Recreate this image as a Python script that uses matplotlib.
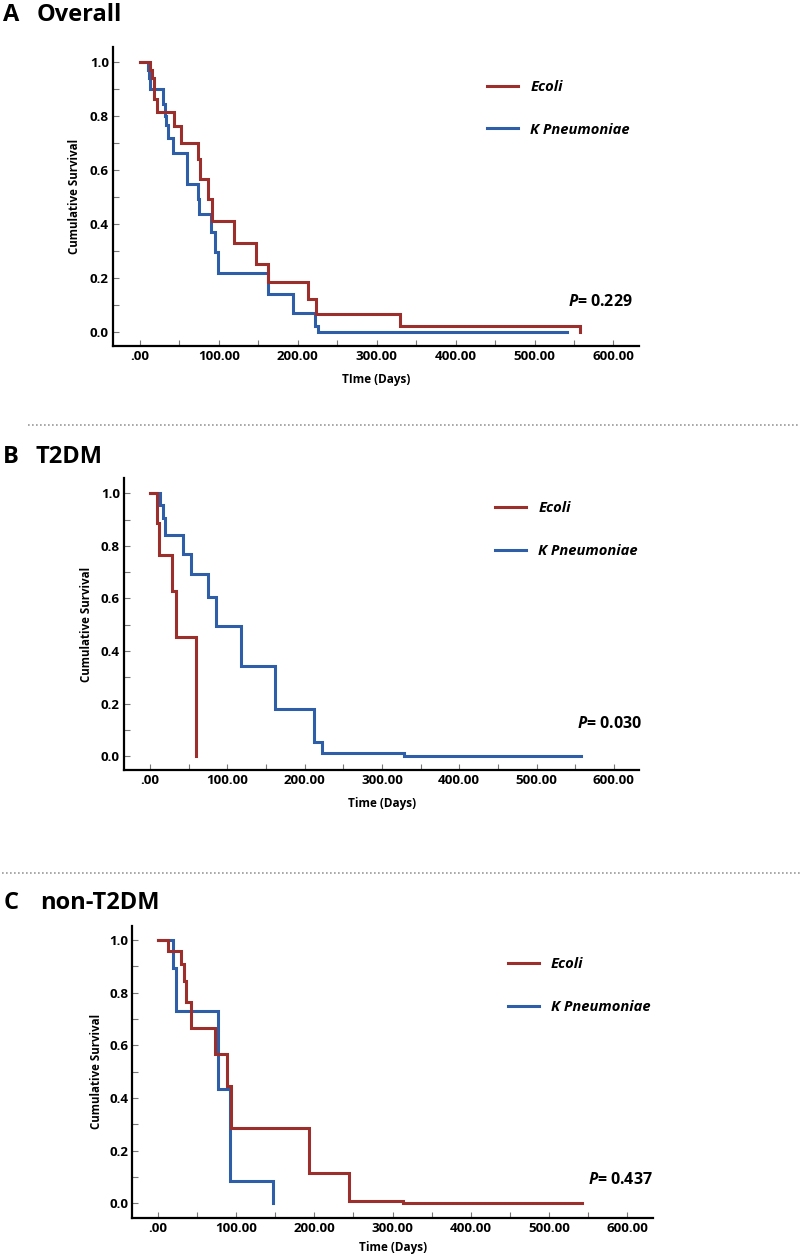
import numpy as np
from matplotlib import pyplot as plt
from matplotlib.lines import Line2D
from matplotlib.ticker import FixedLocator, FuncFormatter

plt.rcParams['font.family'] = ['Open Sans', 'DejaVu Sans']
plt.rcParams['font.weight'] = 'bold'
plt.rcParams['axes.labelweight'] = 'bold'
plt.rcParams['mathtext.fontset'] = 'custom'
plt.rcParams['mathtext.it'] = 'Open Sans:italic:bold'
plt.rcParams['mathtext.rm'] = 'Open Sans:bold'

W, H = 800, 1258
RED = '#9c2e2b'
BLUE = '#2f5ea8'

# --- Kaplan-Meier steps (time in days, survival after the step)
overall_ecoli_t = [0, 12.8, 15.7, 18.3, 22, 42.5, 52.3, 73.6, 75.7, 86, 91.5, 119, 147, 162, 213, 223, 329.5, 557.6]
overall_ecoli_s = [1.0, 0.97, 0.94, 0.86, 0.815, 0.76, 0.70, 0.64, 0.565, 0.49, 0.41, 0.33, 0.25, 0.185, 0.12, 0.065, 0.022, 0.0]
overall_kpn_t = [0, 9.8, 11.5, 12.8, 29, 32, 33.2, 36, 41.7, 59.6, 73, 75.3, 89.4, 94.5, 98.7, 162, 194.5, 222, 225.5, 540.8]
overall_kpn_s = [1.0, 0.97, 0.94, 0.90, 0.843, 0.80, 0.765, 0.718, 0.66, 0.546, 0.49, 0.436, 0.37, 0.296, 0.216, 0.138, 0.07, 0.021, 0.0, 0.0]

t2dm_ecoli_t = [0, 9.5, 12, 28.6, 33.3, 59.3]
t2dm_ecoli_s = [1.0, 0.888, 0.766, 0.628, 0.454, 0.0]
t2dm_kpn_t = [0, 13, 16.5, 19.5, 42, 52.8, 74.5, 85.7, 117.7, 161.5, 212, 223, 329, 557.6]
t2dm_kpn_s = [1.0, 0.956, 0.905, 0.841, 0.768, 0.692, 0.604, 0.496, 0.344, 0.179, 0.055, 0.012, 0.002, 0.002]

non_ecoli_t = [0, 12.8, 29.8, 33.2, 35.7, 42.6, 73.2, 88, 93.6, 193, 244, 313.8, 541.7]
non_ecoli_s = [1.0, 0.958, 0.908, 0.844, 0.766, 0.665, 0.567, 0.446, 0.285, 0.113, 0.008, 0.0, 0.0]
non_kpn_t = [0, 19.1, 23, 76.6, 92.3, 147.7]
non_kpn_s = [1.0, 0.895, 0.732, 0.435, 0.086, 0.0]

group_labels = ['Ecoli', 'K Pneumoniae']
panel_letters = ['A', 'B', 'C']
panel_titles = ['Overall', 'T2DM', 'non-T2DM']
x_labels = ['TIme (Days)', 'Time (Days)', 'Time (Days)']
p_values = ['0.229', '0.030', '0.437']
x_major = [0, 100, 200, 300, 400, 500, 600]
x_minor = [50, 150, 250, 350, 450, 550]
y_major = [0.0, 0.2, 0.4, 0.6, 0.8, 1.0]
y_minor = [0.1, 0.3, 0.5, 0.7, 0.9]

series = [
    ((overall_ecoli_t, overall_ecoli_s), (overall_kpn_t, overall_kpn_s)),
    ((t2dm_ecoli_t, t2dm_ecoli_s), (t2dm_kpn_t, t2dm_kpn_s)),
    ((non_ecoli_t, non_ecoli_s), (non_kpn_t, non_kpn_s)),
]

# layout in pixels: axes box (left, top, right, bottom), limits, title y, text spots
layout = [
    dict(box=(113, 46.7, 639, 345.7), xlim=(-34.2, 632.4), ylim=(-0.052, 1.055),
         title_y=15, title_x=37, letter_x=3, leg=(0.711, 0.794), p=(568, 302), ylab_x=75, xlab_y=379),
    dict(box=(124, 478.3, 639.3, 770), xlim=(-33.7, 633), ylim=(-0.053, 1.057),
         title_y=457, title_x=36, letter_x=3, leg=(0.72, 0.824), p=(577, 724), ylab_x=87, xlab_y=803),
    dict(box=(132.3, 926, 653.3, 1217.7), xlim=(-32.5, 633), ylim=(-0.055, 1.053),
         title_y=903, title_x=40, letter_x=4, leg=(0.7205, 0.796), p=(588, 1180), ylab_x=96, xlab_y=1247),
]


def fx(x):
    return x / W


def fy(y):
    return 1 - y / H


def fmt_x(v, pos):
    s = '%.2f' % v
    return s[1:] if s.startswith('0') else s


fig = plt.figure(figsize=(W / 100, H / 100), dpi=100)

for i, cfg in enumerate(layout):
    l, t, r, b = cfg['box']
    ax = fig.add_axes([fx(l), fy(b), (r - l) / W, (b - t) / H])
    handles = []
    for (tt, ss), col, lab in zip(series[i], [RED, BLUE], group_labels):
        h, = ax.step(tt, ss, where='post', color=col, lw=2.2, label=lab, solid_joinstyle='miter')
        handles.append(h)
    # red curve drawn on top like the original
    handles[0].set_zorder(3)

    ax.set_xlim(*cfg['xlim'])
    ax.set_ylim(*cfg['ylim'])
    ax.xaxis.set_major_locator(FixedLocator(x_major))
    ax.xaxis.set_minor_locator(FixedLocator(x_minor))
    ax.yaxis.set_major_locator(FixedLocator(y_major))
    ax.yaxis.set_minor_locator(FixedLocator(y_minor))
    ax.xaxis.set_major_formatter(FuncFormatter(fmt_x))
    ax.yaxis.set_major_formatter(FuncFormatter(lambda v, p: '%.1f' % v))
    ax.tick_params(which='both', direction='in', length=4, width=0.8, color='#777777', labelsize=9.6)
    ax.tick_params(axis='x', pad=3.2)
    ax.tick_params(axis='y', pad=3)

    for s in ['top', 'right']:
        ax.spines[s].set_visible(False)
    for s in ['left', 'bottom']:
        ax.spines[s].set_linewidth(1.6)
        ax.spines[s].set_color('black')

    ax.set_xlabel(x_labels[i], fontsize=8.5)
    ax.xaxis.label.set_va('center')
    ax.xaxis.set_label_coords(0.5, -(cfg['xlab_y'] - b) / (b - t))
    ax.set_ylabel('Cumulative Survival', fontsize=8.3)
    ax.yaxis.label.set_va('center')
    ax.yaxis.set_label_coords((cfg['ylab_x'] - l) / (r - l), 0.5)

    ax.legend(handles=handles, loc='center left', bbox_to_anchor=cfg['leg'], frameon=False,
              prop={'family': 'Open Sans', 'weight': 'bold', 'style': 'italic', 'size': 10.6},
              handlelength=2.1, handletextpad=0.85, labelspacing=1.95, borderpad=0, borderaxespad=0)

    px, py = cfg['p']
    fig.text(fx(px), fy(py), r'$P$= ' + p_values[i], fontsize=11.5, fontweight='bold',
             ha='left', va='center')

    fig.text(fx(cfg['letter_x']), fy(cfg['title_y']), panel_letters[i], fontsize=17,
             fontweight='bold', ha='left', va='center')
    fig.text(fx(cfg['title_x']), fy(cfg['title_y']), panel_titles[i], fontsize=17,
             fontweight='bold', ha='left', va='center')

# dotted separators between panels
for x0, ysep in [(28, 425), (2, 872.7)]:
    fig.add_artist(Line2D([fx(x0), 1.0], [fy(ysep), fy(ysep)], transform=fig.transFigure,
                          color='#9a9a9a', lw=1.2, dashes=(1, 1.4)))

fig.savefig('out.png', dpi=100, facecolor='white')
